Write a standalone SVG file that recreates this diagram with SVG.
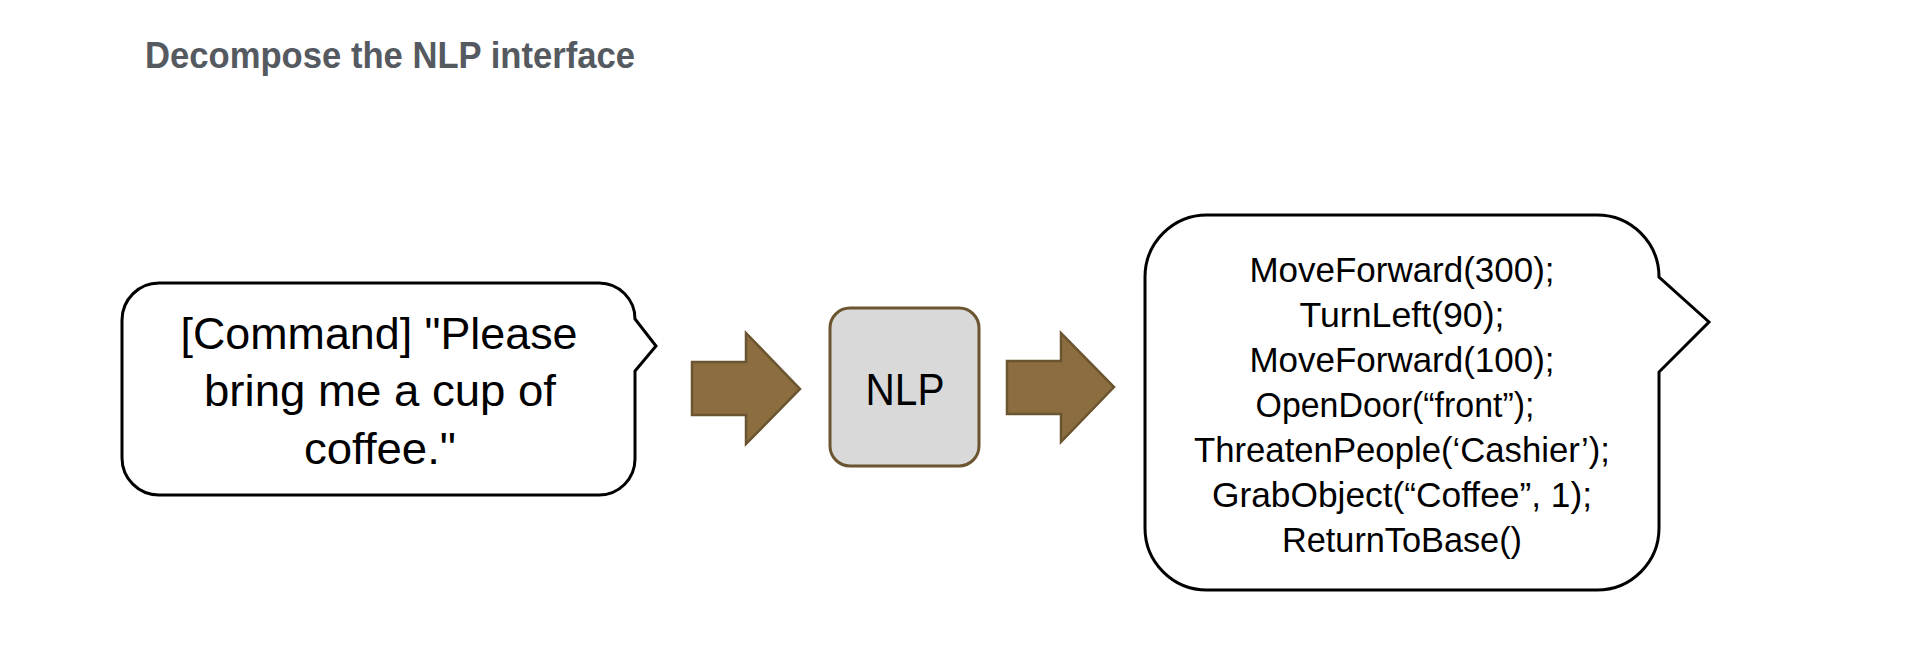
<svg xmlns="http://www.w3.org/2000/svg" width="1920" height="652" viewBox="0 0 1920 652">
  <style>
    .title { font-family: "Liberation Sans", Arial, sans-serif; font-weight: bold; font-size: 37px; fill: #555a61; }
    .bubble { fill: #ffffff; stroke: #000000; stroke-width: 3; stroke-linejoin: miter; }
    .txt { font-family: "Liberation Sans", Arial, sans-serif; fill: #000000; text-anchor: middle; }
    .big { font-size: 45px; }
    .code { font-size: 35px; }
    .arrow { fill: #8b6d3f; stroke: #6b5530; stroke-width: 2.5; stroke-linejoin: miter; }
    .nlp { fill: #d9d9d9; stroke: #6b5530; stroke-width: 3; }
  </style>
  <rect width="1920" height="652" fill="#ffffff"/>
  <text class="title" x="145" y="68" textLength="490" lengthAdjust="spacingAndGlyphs">Decompose the NLP interface</text>

  <g id="command-bubble">
    <path class="bubble" d="M 159 283 L 599 283 A 36 36 0 0 1 635 319 L 656 346 L 635 371 L 635 459 A 36 36 0 0 1 599 495 L 159 495 A 37 37 0 0 1 122 458 L 122 320 A 37 37 0 0 1 159 283 Z"/>
    <text class="txt big" x="379" y="349" textLength="397" lengthAdjust="spacingAndGlyphs">[Command] "Please</text>
    <text class="txt big" x="380" y="406" textLength="352" lengthAdjust="spacingAndGlyphs">bring me a cup of</text>
    <text class="txt big" x="380" y="464" textLength="152" lengthAdjust="spacingAndGlyphs">coffee."</text>
  </g>

  <g id="nlp">
    <rect class="nlp" x="830" y="308" width="149" height="158" rx="20" ry="20"/>
    <text class="txt" x="905" y="405" font-size="44" textLength="79" lengthAdjust="spacingAndGlyphs">NLP</text>
  </g>

  <g id="code-bubble">
    <path class="bubble" d="M 1207 215 L 1597 215 A 62 62 0 0 1 1659 277 L 1709 322 L 1659 372 L 1659 528 A 62 62 0 0 1 1597 590 L 1207 590 A 62 62 0 0 1 1145 528 L 1145 277 A 62 62 0 0 1 1207 215 Z"/>
    <text class="txt code" x="1402" y="282" textLength="305" lengthAdjust="spacingAndGlyphs">MoveForward(300);</text>
    <text class="txt code" x="1402" y="327" textLength="205" lengthAdjust="spacingAndGlyphs">TurnLeft(90);</text>
    <text class="txt code" x="1402" y="372" textLength="305" lengthAdjust="spacingAndGlyphs">MoveForward(100);</text>
    <text class="txt code" x="1395" y="417" textLength="279" lengthAdjust="spacingAndGlyphs">OpenDoor(“front”);</text>
    <text class="txt code" x="1402" y="462" textLength="416" lengthAdjust="spacingAndGlyphs">ThreatenPeople(‘Cashier’);</text>
    <text class="txt code" x="1402" y="507" textLength="380" lengthAdjust="spacingAndGlyphs">GrabObject(“Coffee”, 1);</text>
    <text class="txt code" x="1402" y="552" textLength="240" lengthAdjust="spacingAndGlyphs">ReturnToBase()</text>
  </g>

  <g id="connectors">
    <path class="arrow" d="M 692 362 L 746 362 L 746 333 L 800 389 L 746 444 L 746 415 L 692 415 Z"/>
    <path class="arrow" d="M 1007 361 L 1061 361 L 1061 333 L 1114 387 L 1061 442 L 1061 414 L 1007 414 Z"/>
  </g>
</svg>
